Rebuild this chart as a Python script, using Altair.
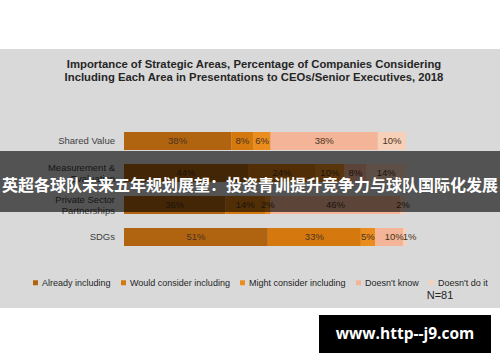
import altair as alt
import pandas as pd

categories = ["Shared Value", "Measurement & Evaluation", "Private Sector Partnerships", "SDGs"]
cat_labels = ["Shared Value", "Measurement &\nEvaluation", "Private Sector\nPartnerships", "SDGs"]
statuses = ["Already including", "Would consider including", "Might consider including",
            "Doesn't know", "Doesn't do it"]
colors = ["#b1640f", "#d5790f", "#eb8c1e", "#f3b497", "#f7d0b9"]

already = [38, 44, 36, 51]
would = [8, 24, 14, 33]
might = [6, 10, 2, 5]
dont_know = [38, 8, 46, 10]
dont_do = [10, 14, 2, 1]

title_lines = ["Importance of Strategic Areas, Percentage of Companies Considering",
               "Including Each Area in Presentations to CEOs/Senior Executives, 2018"]
note = "N=81"
banner = "英超各球队未来五年规划展望：投资青训提升竞争力与球队国际化发展"
watermark = "www.http--j9.com"

series = [already, would, might, dont_know, dont_do]
rows = []
for si, (s, vals) in enumerate(zip(statuses, series)):
    for ci, c in enumerate(categories):
        rows.append({"cat": c, "status": s, "order": si, "value": vals[ci],
                     "label": f"{vals[ci]}%"})
df = pd.DataFrame(rows)
lab_df = pd.DataFrame({"cat": categories, "text": cat_labels})

FONT = "Liberation Sans"
W, H = 282, 128

yscale = alt.Scale(domain=categories, paddingInner=0.4375, paddingOuter=0.21875)
xscale = alt.Scale(domain=[0, 100], nice=False, zero=True)

base = alt.Chart(df).transform_stack(
    stack="value", as_=["x0", "x1"], groupby=["cat"],
    sort=[alt.SortField("order", order="ascending")]
).transform_calculate(
    mid="(datum.x0 + datum.x1) / 2 + ((datum.cat == 'SDGs' && datum.order >= 3) ? 1.8 : 0)"
)

bars = base.mark_rect().encode(
    y=alt.Y("cat:N", scale=yscale, axis=None),
    x=alt.X("x0:Q", scale=xscale, axis=None),
    x2="x1:Q",
    color=alt.Color("status:N", scale=alt.Scale(domain=statuses, range=colors),
                    legend=alt.Legend(orient="none", direction="horizontal",
                                      legendX=-93, legendY=153, title=None,
                                      symbolType="square", symbolSize=25,
                                      symbolStrokeWidth=0, labelFontSize=9,
                                      labelFont=FONT, labelColor="#262626",
                                      columnPadding=8, labelOffset=2, padding=0)),
)

seg_text = base.mark_text(fontSize=9.5, font=FONT, color="#4a3220").encode(
    y=alt.Y("cat:N", scale=yscale, axis=None),
    x=alt.X("mid:Q", scale=xscale, axis=None),
    text="label:N",
)

def ylab(filter_expr, dy):
    return alt.Chart(lab_df).transform_filter(filter_expr).mark_text(
        align="right", baseline="middle", fontSize=9.5, font=FONT, color="#404040",
        lineBreak="\n", lineHeight=11.5, dy=dy
    ).encode(
        y=alt.Y("cat:N", scale=yscale, axis=None),
        x=alt.value(-9),
        text="text:N",
    )

ylabels_single = ylab("indexof(datum.text, '\\n') < 0", 0)
ylabels_multi = ylab("indexof(datum.text, '\\n') >= 0", -5.5)

one = pd.DataFrame({"k": [0]})

def rect(x1, x2, y1, y2, color, opacity=1.0):
    return alt.Chart(one).mark_rect(color=color, opacity=opacity).encode(
        x=alt.value(x1), x2=alt.value(x2), y=alt.value(y1), y2=alt.value(y2))

def txt(t, x, y, size, color, weight="normal", font=FONT, align="center"):
    return alt.Chart(one).mark_text(
        fontSize=size, color=color, fontWeight=weight, font=font, align=align,
        baseline="middle").encode(x=alt.value(x), y=alt.value(y), text=alt.value(t))

OX, OY = 124, 125  # plot origin in page pixels

white_top = rect(-OX, 500 - OX, -OY, 49 - OY, "white")
white_bot = rect(-OX, 500 - OX, 308 - OY, 362 - OY, "white")

t1 = txt(title_lines[0], 254 - OX, 65 - OY, 11.3, "#262626", "bold")
t2 = txt(title_lines[1], 254 - OX, 78 - OY, 11.3, "#262626", "bold")
n_txt = txt(note, 440 - OX, 296 - OY, 11, "#262626")

banner_rect = rect(-OX, 500 - OX, 151 - OY, 212 - OY, "black", 0.62)
banner_txt = txt(banner, 250 - OX, 186 - OY, 16, "white", "bold", "Noto Sans CJK SC")

wm_rect = rect(319 - OX, 491 - OX, 315 - OY, 353 - OY, "black")
wm_txt = txt(watermark, 405 - OX, 334 - OY, 15.5, "white", "bold", "Open Sans")

chart = alt.layer(
    white_top, white_bot, t1, t2, n_txt, ylabels_single, ylabels_multi, bars, seg_text,
    banner_rect, banner_txt, wm_rect, wm_txt
).properties(
    width=W, height=H,
    autosize=alt.AutoSizeParams(type="none"),
    padding={"left": OX, "top": OY, "right": 500 - OX - W, "bottom": 362 - OY - H},
    background="#d9d9d9",
).configure_view(strokeWidth=0)

chart.save("out.html", embed_options={"renderer": "svg", "actions": False})
